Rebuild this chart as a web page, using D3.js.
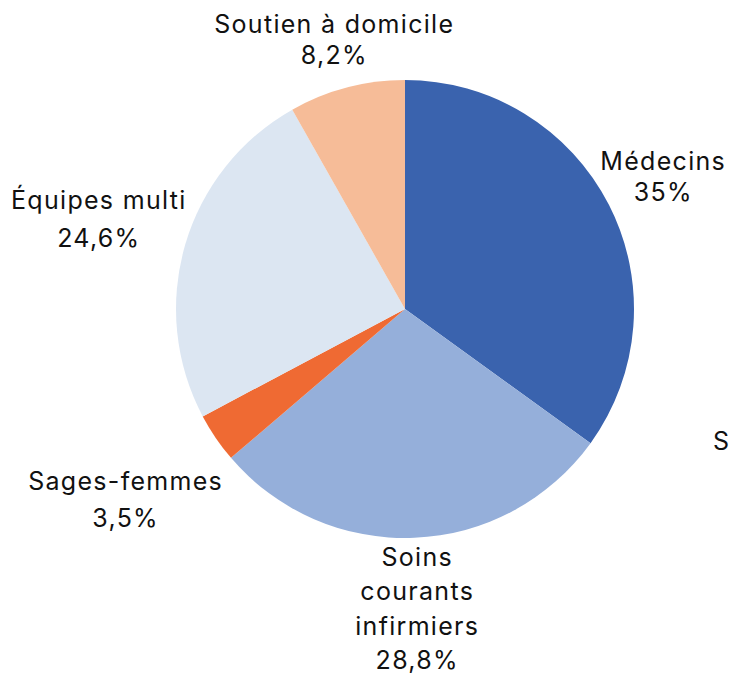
<!DOCTYPE html>
<html>
<head>
<meta charset="utf-8">
<script src="https://cdn.jsdelivr.net/npm/d3@7"></script>
<style>
  body { margin: 0; background: #fff; }
  text { font-family: Inter, "Noto Sans", sans-serif; fill: #111; }
</style>
</head>
<body>
<script>
// chart size
var w = 732;
var h = 677;

// data: slices clockwise from 12 o'clock
const labels = [["Médecins"], ["Soins", "courants", "infirmiers"], ["Sages-femmes"], ["Équipes multi"], ["Soutien à domicile"]];
const values = [35, 28.8, 3.5, 24.6, 8.2];
const valueLabels = ["35%", "28,8%", "3,5%", "24,6%", "8,2%"];
const colors = ["#3a63ae", "#95afda", "#ef6a33", "#dce6f2", "#f6bc98"];

// layout
const cx = 405, cy = 309, radius = 229;
const labelRadius = [290, 300, 338, 319, 278];
const lineGap = [31, 34.5, 37, 38, 31];

const svg = d3.select("body")
  .append("svg")
    .attr("width", w)
    .attr("height", h);

const pie = d3.pie().sort(null).value(d => d);
const arcs = pie(values);

const arc = d3.arc().innerRadius(0).outerRadius(radius);

const g = svg.append("g")
  .attr("transform", `translate(${cx},${cy})`);

g.selectAll("path")
  .data(arcs)
  .enter()
  .append("path")
    .attr("d", arc)
    .attr("fill", (d, i) => colors[i]);

// labels outside slices
arcs.forEach(function(d, i) {
  const mid = (d.startAngle + d.endAngle) / 2;
  const x = Math.sin(mid) * labelRadius[i];
  const y = -Math.cos(mid) * labelRadius[i];
  const lines = labels[i].concat([valueLabels[i]]);
  const gap = lineGap[i];
  const top = y - (lines.length - 1) * gap / 2;

  const t = g.append("text")
    .attr("text-anchor", "middle")
    .attr("font-size", 25)
    .attr("letter-spacing", 1.3);

  lines.forEach(function(line, j) {
    t.append("tspan")
      .attr("x", x)
      .attr("y", top + j * gap)
      .attr("dy", "0.35em")
      .text(line);
  });
});

// stray letter at the right edge
svg.append("text")
  .attr("x", 721)
  .attr("y", 441)
  .attr("dy", "0.35em")
  .attr("text-anchor", "middle")
  .attr("font-size", 25)
  .text("S");
</script>
</body>
</html>
